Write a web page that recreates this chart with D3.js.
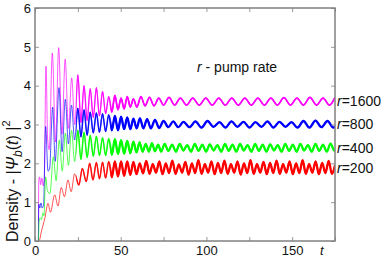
<!DOCTYPE html>
<html><head><meta charset="utf-8">
<script src="https://cdn.jsdelivr.net/npm/d3@7"></script>
<style>body{margin:0;background:#fff}svg{display:block}</style>
</head><body>
<svg id="c" width="382" height="262"></svg>
<script>
const xLabelTicks = [0, 50, 100, 150];
const xAllTicks = [0, 25, 50, 75, 100, 125, 150, 175];
const yTicks = [0, 1, 2, 3, 4, 5, 6];
const seriesNames = ["r=1600", "r=800", "r=400", "r=200"];
const seriesColors = ["#ff00ff", "#0000ff", "#00ff00", "#ff0000"];

const r1600 = [[2,0],[2.2,1.55],[2.7,1.65],[3.3,1.45],[4.0,1.62],[4.8,1.42],[5.4,1.6],[6.4,4.5],[7.4,2.6],[8.3,2.35],[10.1,4.84],[12,2.55],[13.8,4.98],[15.7,2.75],[17.6,4.68],[19.5,2.9],[21.4,4.2],[23.2,3.0],[25,4.28],[26.8,3.05],[28.6,4.0],[30.4,3.1],[32.2,3.92],[34,3.18],[35.8,3.95],[37.6,3.22],[39.4,3.85],[41.2,3.28],[43,3.72],[44.8,3.32],[46.6,3.75],[48.4,3.38],[50.2,3.68],[52,3.4],[53.8,3.72],[55.6,3.45],[57.4,3.66],[59.4,3.45],[61.8,3.72],[64.2,3.48],[66.8,3.7],[69.4,3.48],[72.2,3.68],[75,3.5],[78.2,3.7],[81.4,3.5],[84.8,3.68],[88.4,3.5],[92,3.68],[95.8,3.5],[99.6,3.68],[103.4,3.5],[107.2,3.68],[111,3.5],[114.8,3.68],[118.6,3.5],[122.4,3.68],[126.2,3.5],[130,3.68],[133.8,3.5],[137.6,3.68],[141.4,3.5],[145.2,3.69],[149,3.5],[152.8,3.68],[156.6,3.5],[160.4,3.7],[164.2,3.5],[168,3.68],[171.8,3.5],[175,3.7]];

const r800 = [[2,0],[2.2,0.95],[2.8,0.85],[3.5,0.98],[4.2,0.85],[5.0,0.92],[6.2,2.95],[7.6,1.8],[8.5,1.85],[10.3,3.45],[11.8,2.05],[14,3.95],[15.8,2.3],[17.7,3.65],[19.5,2.5],[21.3,3.5],[23.1,2.6],[25,3.42],[26.8,2.68],[28.6,3.38],[30.4,2.72],[32.2,3.32],[34,2.78],[35.8,3.3],[37.6,2.8],[39.4,3.28],[41.2,2.82],[43,3.25],[44.8,2.85],[46.6,3.22],[48.4,2.85],[50.2,3.2],[52,2.88],[53.8,3.18],[55.6,2.88],[57.4,3.15],[59.3,2.9],[61.2,3.16],[63.2,2.9],[65.4,3.14],[67.6,2.9],[70,3.12],[72.4,2.91],[75,3.09],[77.8,2.93],[80.6,3.08],[83.6,2.93],[86.6,3.07],[90.1,2.93],[93.6,3.08],[97.1,2.92],[100.6,3.09],[104.1,2.94],[107.6,3.06],[111.1,2.92],[114.6,3.08],[118.1,2.94],[121.6,3.07],[125.1,2.92],[128.6,3.06],[132.1,2.94],[135.6,3.08],[139.1,2.92],[142.6,3.07],[146.1,2.94],[149.6,3.06],[153.1,2.92],[156.6,3.09],[160.1,2.92],[163.6,3.1],[167.1,2.93],[170.6,3.09],[174.1,2.92],[175,2.95]];

const r400 = [[2,0],[2.4,0.5],[3.0,0.6],[3.8,0.55],[4.6,0.72],[5.2,0.65],[6.2,1.65],[7.2,1.3],[8.7,1.22],[10.7,2.17],[12.3,1.55],[14.2,2.6],[15.9,1.8],[17.7,2.78],[19.5,1.95],[21.3,2.85],[23.1,2.05],[25,2.85],[26.8,2.1],[28.6,2.8],[30.4,2.15],[32.2,2.72],[34,2.18],[35.8,2.7],[37.6,2.2],[39.4,2.66],[41.2,2.2],[43,2.64],[44.8,2.22],[46.6,2.62],[48.4,2.24],[50.2,2.6],[52,2.25],[53.8,2.58],[55.6,2.26],[57.4,2.56],[59.2,2.28],[61,2.54],[62.8,2.3],[64.6,2.5],[66.4,2.3],[68.2,2.52],[70,2.31],[71.8,2.48],[73.6,2.3],[75.6,2.5],[77.8,2.32],[80,2.48],[82.2,2.3],[84.4,2.5],[86.6,2.33],[88.8,2.47],[91,2.3],[93.2,2.5],[95.4,2.32],[97.6,2.48],[99.8,2.3],[102,2.49],[104.2,2.33],[106.4,2.47],[108.6,2.3],[110.8,2.5],[113,2.32],[115.2,2.48],[117.4,2.3],[119.6,2.5],[121.8,2.33],[124,2.47],[126.2,2.3],[128.4,2.5],[130.6,2.32],[132.8,2.48],[135,2.3],[137.2,2.49],[139.4,2.33],[141.6,2.47],[143.8,2.3],[146,2.5],[148.2,2.32],[150.4,2.48],[152.6,2.3],[154.8,2.5],[157,2.33],[159.2,2.47],[161.4,2.3],[163.6,2.5],[165.8,2.32],[168,2.48],[170.2,2.3],[172.4,2.51],[174.6,2.33],[175,2.36]];

const r200 = [[2,0],[2.7,0.03],[3.5,0.2],[4.7,0.41],[5.8,0.6],[7.6,0.97],[9,0.74],[11.5,1.19],[13.4,0.9],[15.3,1.38],[17.2,1.14],[19.2,1.57],[21.1,1.27],[23.1,1.73],[25.6,1.44],[27.6,1.87],[29.9,1.53],[31.9,2.0],[33.8,1.57],[35.8,2.02],[37.6,1.6],[39.4,2.03],[41.2,1.62],[43,2.05],[44.8,1.64],[46.6,2.05],[48.4,1.66],[50.2,2.05],[52,1.68],[53.8,2.05],[55.6,1.7],[57.4,2.04],[59.2,1.72],[61.1,2.0],[63,1.74],[64.9,2.06],[66.8,1.73],[68.7,1.98],[70.6,1.76],[72.5,2.05],[74.4,1.72],[76.3,2.0],[78.2,1.75],[80.1,2.07],[82,1.73],[83.9,1.97],[85.8,1.76],[87.7,2.04],[89.6,1.71],[91.5,2.0],[93.4,1.75],[95.3,2.08],[97.2,1.73],[99.1,1.98],[101,1.76],[102.9,2.05],[104.8,1.72],[106.7,2.01],[108.6,1.75],[110.5,2.07],[112.4,1.73],[114.3,1.98],[116.2,1.76],[118.1,2.05],[120,1.71],[121.9,2.0],[123.8,1.75],[125.7,2.08],[127.6,1.73],[129.5,1.98],[131.4,1.76],[133.3,2.04],[135.2,1.72],[137.1,2.01],[139,1.75],[140.9,2.07],[142.8,1.73],[144.7,1.98],[146.6,1.76],[148.5,2.05],[150.4,1.72],[152.3,2.0],[154.2,1.75],[156.1,2.08],[158,1.73],[159.9,1.98],[161.8,1.76],[163.7,2.05],[165.6,1.72],[167.5,2.01],[169.4,1.75],[171.3,2.06],[173.2,1.73],[175,1.95]];

const allSeries = [r1600, r800, r400, r200];

const svg = d3.select("#c");
const x = d3.scaleLinear().domain([0, 175]).range([35, 335]);
const y = d3.scaleLinear().domain([0, 6]).range([241, 8]);
const font = "'Liberation Sans', Arial, sans-serif";
const frame = "#808080";

const defs = svg.append("defs");
function clip(id, t0) {
  defs.append("clipPath").attr("id", id).append("rect")
    .attr("x", x(t0)).attr("y", y(6)).attr("width", x(175) - x(t0)).attr("height", y(0) - y(6));
}
clip("plot", 0); clip("mid", 24); clip("steady", 44);

const line = d3.line().x(d => x(d[0])).y(d => y(d[1])).curve(d3.curveMonotoneX);

const layers = [["plot", 0.9, 0.9, 0.75], ["mid", 1.3, 1.5, 0.85], ["steady", 1.7, 2.3, 1]];
layers.forEach(([id, wm, w, op]) => {
  const g = svg.append("g").attr("clip-path", `url(#${id})`);
  allSeries.forEach((s, i) => {
    g.append("path").attr("d", line(s)).attr("fill", "none")
      .attr("stroke", seriesColors[i]).attr("stroke-width", i === 0 ? wm : w).attr("stroke-opacity", op);
  });
});

// axes with inward ticks
const axB = svg.append("g").attr("transform", `translate(0,${y(0)})`)
  .call(d3.axisBottom(x).tickValues(xAllTicks).tickSize(-4).tickPadding(5)
    .tickFormat(d => xLabelTicks.includes(d) ? d : ""));
const axT = svg.append("g").attr("transform", `translate(0,${y(6)})`)
  .call(d3.axisTop(x).tickValues(xAllTicks).tickSize(-4).tickFormat(""));
const axL = svg.append("g").attr("transform", `translate(${x(0)},0)`)
  .call(d3.axisLeft(y).tickValues(yTicks).tickSize(-4).tickPadding(4).tickFormat(d3.format("d")));
const axR = svg.append("g").attr("transform", `translate(${x(175)},0)`)
  .call(d3.axisRight(y).tickValues(yTicks).tickSize(-4).tickFormat(""));
[axB, axT, axL, axR].forEach(a => {
  a.select(".domain").remove();
  a.selectAll(".tick line").attr("stroke", frame).attr("stroke-width", 0.8);
  a.selectAll("text").attr("font-family", font).attr("font-size", 13).attr("fill", "#111");
});
svg.append("rect").attr("x", x(0)).attr("y", y(6)).attr("width", x(175) - x(0)).attr("height", y(0) - y(6))
  .attr("fill", "none").attr("stroke", frame).attr("stroke-width", 1.5);

// x axis title
svg.append("text").attr("x", 320).attr("y", 255).attr("font-family", font).attr("font-size", 13)
  .attr("font-style", "italic").attr("fill", "#111").text("t");

// y axis title
const yt = svg.append("text").attr("transform", "translate(18,242) rotate(-90)")
  .attr("font-family", font).attr("font-size", 16).attr("fill", "#111");
yt.append("tspan").text("Density -  |");
yt.append("tspan").attr("font-style", "italic").text("Ψ");
yt.append("tspan").attr("font-style", "italic").attr("font-size", 12).attr("dy", 4).text("b");
yt.append("tspan").attr("dy", -4).text("(");
yt.append("tspan").attr("font-style", "italic").text("t");
yt.append("tspan").text(") |");
yt.append("tspan").attr("font-size", 11).attr("dy", -8).text("2");

// annotation
const ann = svg.append("text").attr("x", 197).attr("y", 72).attr("font-family", font)
  .attr("font-size", 14).attr("fill", "#111");
ann.append("tspan").attr("font-style", "italic").text("r");
ann.append("tspan").text(" - pump rate");

// right labels at mean steady level
allSeries.forEach((s, i) => {
  const m = d3.mean(s.filter(d => d[0] > 100), d => d[1]);
  const t = svg.append("text").attr("x", 337).attr("y", y(m)).attr("dy", "0.35em")
    .attr("font-family", font).attr("font-size", 14).attr("fill", "#111");
  t.append("tspan").attr("font-style", "italic").text("r");
  t.append("tspan").text(seriesNames[i].slice(1));
});
</script>
</body></html>
